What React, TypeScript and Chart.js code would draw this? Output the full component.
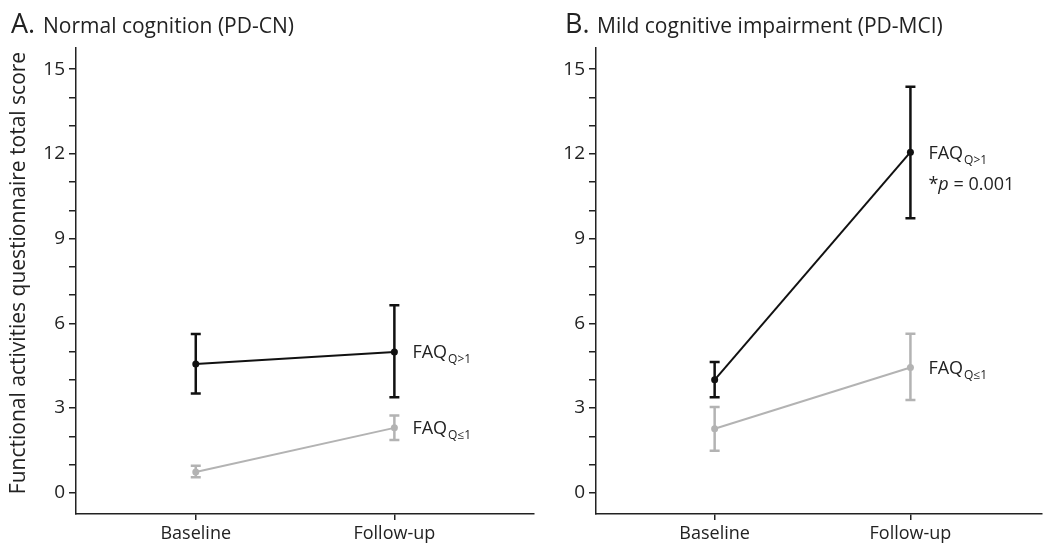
import React, { useEffect, useRef } from "react";
import { Chart, registerables } from "chart.js";

Chart.register(...registerables);

const FONT = "'Open Sans', 'DejaVu Sans', sans-serif";
Chart.defaults.font.family = FONT;

// ---------- data ----------
const categories = ["Baseline", "Follow-up"];
const categoryPositions = [0, 1];
const yTickValues = [0, 1, 2, 3, 4, 5, 6, 7, 8, 9, 10, 11, 12, 13, 14, 15];
const yLabelStep = 3;

// Panel A: Normal cognition (PD-CN)
const cnHighMean = [4.56, 4.99];
const cnHighLow = [3.52, 3.38];
const cnHighUp = [5.62, 6.64];
const cnLowMean = [0.74, 2.3];
const cnLowLow = [0.55, 1.87];
const cnLowUp = [0.96, 2.74];

// Panel B: Mild cognitive impairment (PD-MCI)
const mciHighMean = [4.0, 12.06];
const mciHighLow = [3.38, 9.72];
const mciHighUp = [4.63, 14.38];
const mciLowMean = [2.27, 4.44];
const mciLowLow = [1.49, 3.29];
const mciLowUp = [3.04, 5.63];

const seriesHighName = "Q>1";
const seriesLowName = "Q\u22641";
const pValueText = "0.001";
const yAxisTitle = "Functional activities questionnaire total score";

const BLACK = "#111111";
const GRAY = "#b3b3b3";
const AXIS = "#222222";
const TEXT = "#222222";

type Series = {
  mean: number[];
  low: number[];
  up: number[];
  color: string;
  sub: string;
  pValue?: string;
};

type PanelCfg = {
  left: number;
  width: number;
  yWidth: number;
  padRight: number;
  xMin: number;
  xMax: number;
  letter: string;
  title: string;
  letterX: number;
  titleX: number;
  showYTitle: boolean;
  series: Series[];
};

const panels: PanelCfg[] = [
  {
    left: 0,
    width: 540,
    yWidth: 76,
    padRight: 6,
    xMin: -0.603,
    xMax: 1.703,
    letter: "A.",
    title: "Normal cognition (PD-CN)",
    letterX: 11,
    titleX: 43,
    showYTitle: true,
    series: [
      { mean: cnLowMean, low: cnLowLow, up: cnLowUp, color: GRAY, sub: seriesLowName },
      { mean: cnHighMean, low: cnHighLow, up: cnHighUp, color: BLACK, sub: seriesHighName },
    ],
  },
  {
    left: 540,
    width: 506,
    yWidth: 56,
    padRight: 0,
    xMin: -0.606,
    xMax: 1.672,
    letter: "B.",
    title: "Mild cognitive impairment (PD-MCI)",
    letterX: 565 - 540,
    titleX: 597 - 540,
    showYTitle: false,
    series: [
      { mean: mciLowMean, low: mciLowLow, up: mciLowUp, color: GRAY, sub: seriesLowName },
      { mean: mciHighMean, low: mciHighLow, up: mciHighUp, color: BLACK, sub: seriesHighName, pValue: pValueText },
    ],
  },
];

function makePlugin(cfg: PanelCfg) {
  return {
    id: "panelDecor" + cfg.letter,
    beforeDatasetsDraw(chart: any) {
      const ctx = chart.ctx;
      const xs = chart.scales.x;
      const ys = chart.scales.y;
      cfg.series.forEach((s) => {
        ctx.save();
        ctx.strokeStyle = s.color;
        ctx.lineWidth = 2.5;
        categoryPositions.forEach((cx, i) => {
          const px = xs.getPixelForValue(cx);
          const y1 = ys.getPixelForValue(s.low[i]);
          const y2 = ys.getPixelForValue(s.up[i]);
          ctx.beginPath();
          ctx.moveTo(px, y1);
          ctx.lineTo(px, y2);
          ctx.moveTo(px - 5, y1);
          ctx.lineTo(px + 5, y1);
          ctx.moveTo(px - 5, y2);
          ctx.lineTo(px + 5, y2);
          ctx.stroke();
        });
        ctx.restore();
      });
    },
    afterDraw(chart: any) {
      const ctx = chart.ctx;
      const xs = chart.scales.x;
      const ys = chart.scales.y;
      ctx.save();
      ctx.fillStyle = TEXT;
      ctx.textBaseline = "alphabetic";
      ctx.textAlign = "left";
      // panel title
      ctx.font = `27px ${FONT}`;
      ctx.fillText(cfg.letter, cfg.letterX, 33);
      ctx.font = `21px ${FONT}`;
      ctx.fillText(cfg.title, cfg.titleX, 33);
      // y axis title
      if (cfg.showYTitle) {
        ctx.save();
        ctx.translate(19.5, 273);
        ctx.rotate(-Math.PI / 2);
        ctx.textAlign = "center";
        ctx.textBaseline = "middle";
        ctx.font = `21px ${FONT}`;
        ctx.fillText(yAxisTitle, 0, 0);
        ctx.restore();
      }
      // series labels
      cfg.series.forEach((s) => {
        const last = categoryPositions.length - 1;
        const x = xs.getPixelForValue(categoryPositions[last]) + 18;
        const base = ys.getPixelForValue(s.mean[last]) + 6.5;
        ctx.font = `18px ${FONT}`;
        ctx.fillText("FAQ", x, base);
        const w = ctx.measureText("FAQ").width;
        ctx.font = `12px ${FONT}`;
        ctx.fillText(s.sub, x + w + 1, base + 5);
        if (s.pValue) {
          const b2 = base + 31;
          ctx.font = `18px ${FONT}`;
          ctx.fillText("*", x, b2);
          let cx = x + ctx.measureText("*").width;
          ctx.font = `italic 18px ${FONT}`;
          ctx.fillText("p", cx, b2);
          cx += ctx.measureText("p").width;
          ctx.font = `18px ${FONT}`;
          ctx.fillText(" = " + s.pValue, cx, b2);
        }
      });
      ctx.restore();
    },
  };
}

function Panel({ cfg }: { cfg: PanelCfg }) {
  const ref = useRef<HTMLCanvasElement | null>(null);
  useEffect(() => {
    if (!ref.current) return;
    const datasets = cfg.series.map((s) => ({
      data: categoryPositions.map((x, i) => ({ x, y: s.mean[i] })),
      borderColor: s.color,
      backgroundColor: s.color,
      pointBackgroundColor: s.color,
      pointBorderColor: s.color,
      pointRadius: 3.5,
      pointBorderWidth: 0,
      borderWidth: 2,
      showLine: true,
      tension: 0,
    }));
    const chart = new Chart(ref.current, {
      type: "scatter",
      data: { datasets },
      options: {
        animation: false,
        responsive: false,
        maintainAspectRatio: false,
        layout: { padding: { top: 48, right: cfg.padRight, left: 0, bottom: 0 } },
        plugins: {
          legend: { display: false },
          tooltip: { enabled: false },
          title: { display: false },
        },
        scales: {
          x: {
            type: "linear",
            min: cfg.xMin,
            max: cfg.xMax,
            afterBuildTicks: (s: any) => {
              s.ticks = categoryPositions.map((v) => ({ value: v }));
            },
            afterFit: (s: any) => {
              s.height = 30;
            },
            ticks: {
              callback: (v: any) => {
                const idx = categoryPositions.indexOf(Number(v));
                return idx >= 0 ? categories[idx] : "";
              },
              autoSkip: false,
              maxRotation: 0,
              padding: 3,
              color: TEXT,
              font: { size: 18, family: FONT },
            },
            grid: { drawOnChartArea: false, drawTicks: true, tickLength: 6, color: AXIS, lineWidth: 1.5 },
            border: { display: true, color: AXIS, width: 1.5 },
          },
          y: {
            type: "linear",
            min: -0.75,
            max: 15.75,
            afterBuildTicks: (s: any) => {
              s.ticks = yTickValues.map((v) => ({ value: v }));
            },
            afterFit: (s: any) => {
              s.width = cfg.yWidth;
            },
            ticks: {
              callback: (v: any) => (Number(v) % yLabelStep === 0 ? String(v) : ""),
              autoSkip: false,
              padding: 4,
              color: TEXT,
              font: { size: 19, family: FONT },
            },
            grid: { drawOnChartArea: false, drawTicks: true, tickLength: 7, color: AXIS, lineWidth: 1.5 },
            border: { display: true, color: AXIS, width: 1.5 },
          },
        },
      },
      plugins: [makePlugin(cfg)],
    } as any);
    return () => chart.destroy();
  }, [cfg]);
  return (
    <canvas
      ref={ref}
      width={cfg.width}
      height={544}
      style={{ position: "absolute", left: cfg.left, top: 0, width: cfg.width, height: 544 }}
    />
  );
}

export default function App() {
  return (
    <div style={{ position: "absolute", left: 0, top: 0, width: 1046, height: 544, background: "#ffffff", overflow: "hidden" }}>
      {panels.map((p) => (
        <Panel key={p.letter} cfg={p} />
      ))}
    </div>
  );
}
